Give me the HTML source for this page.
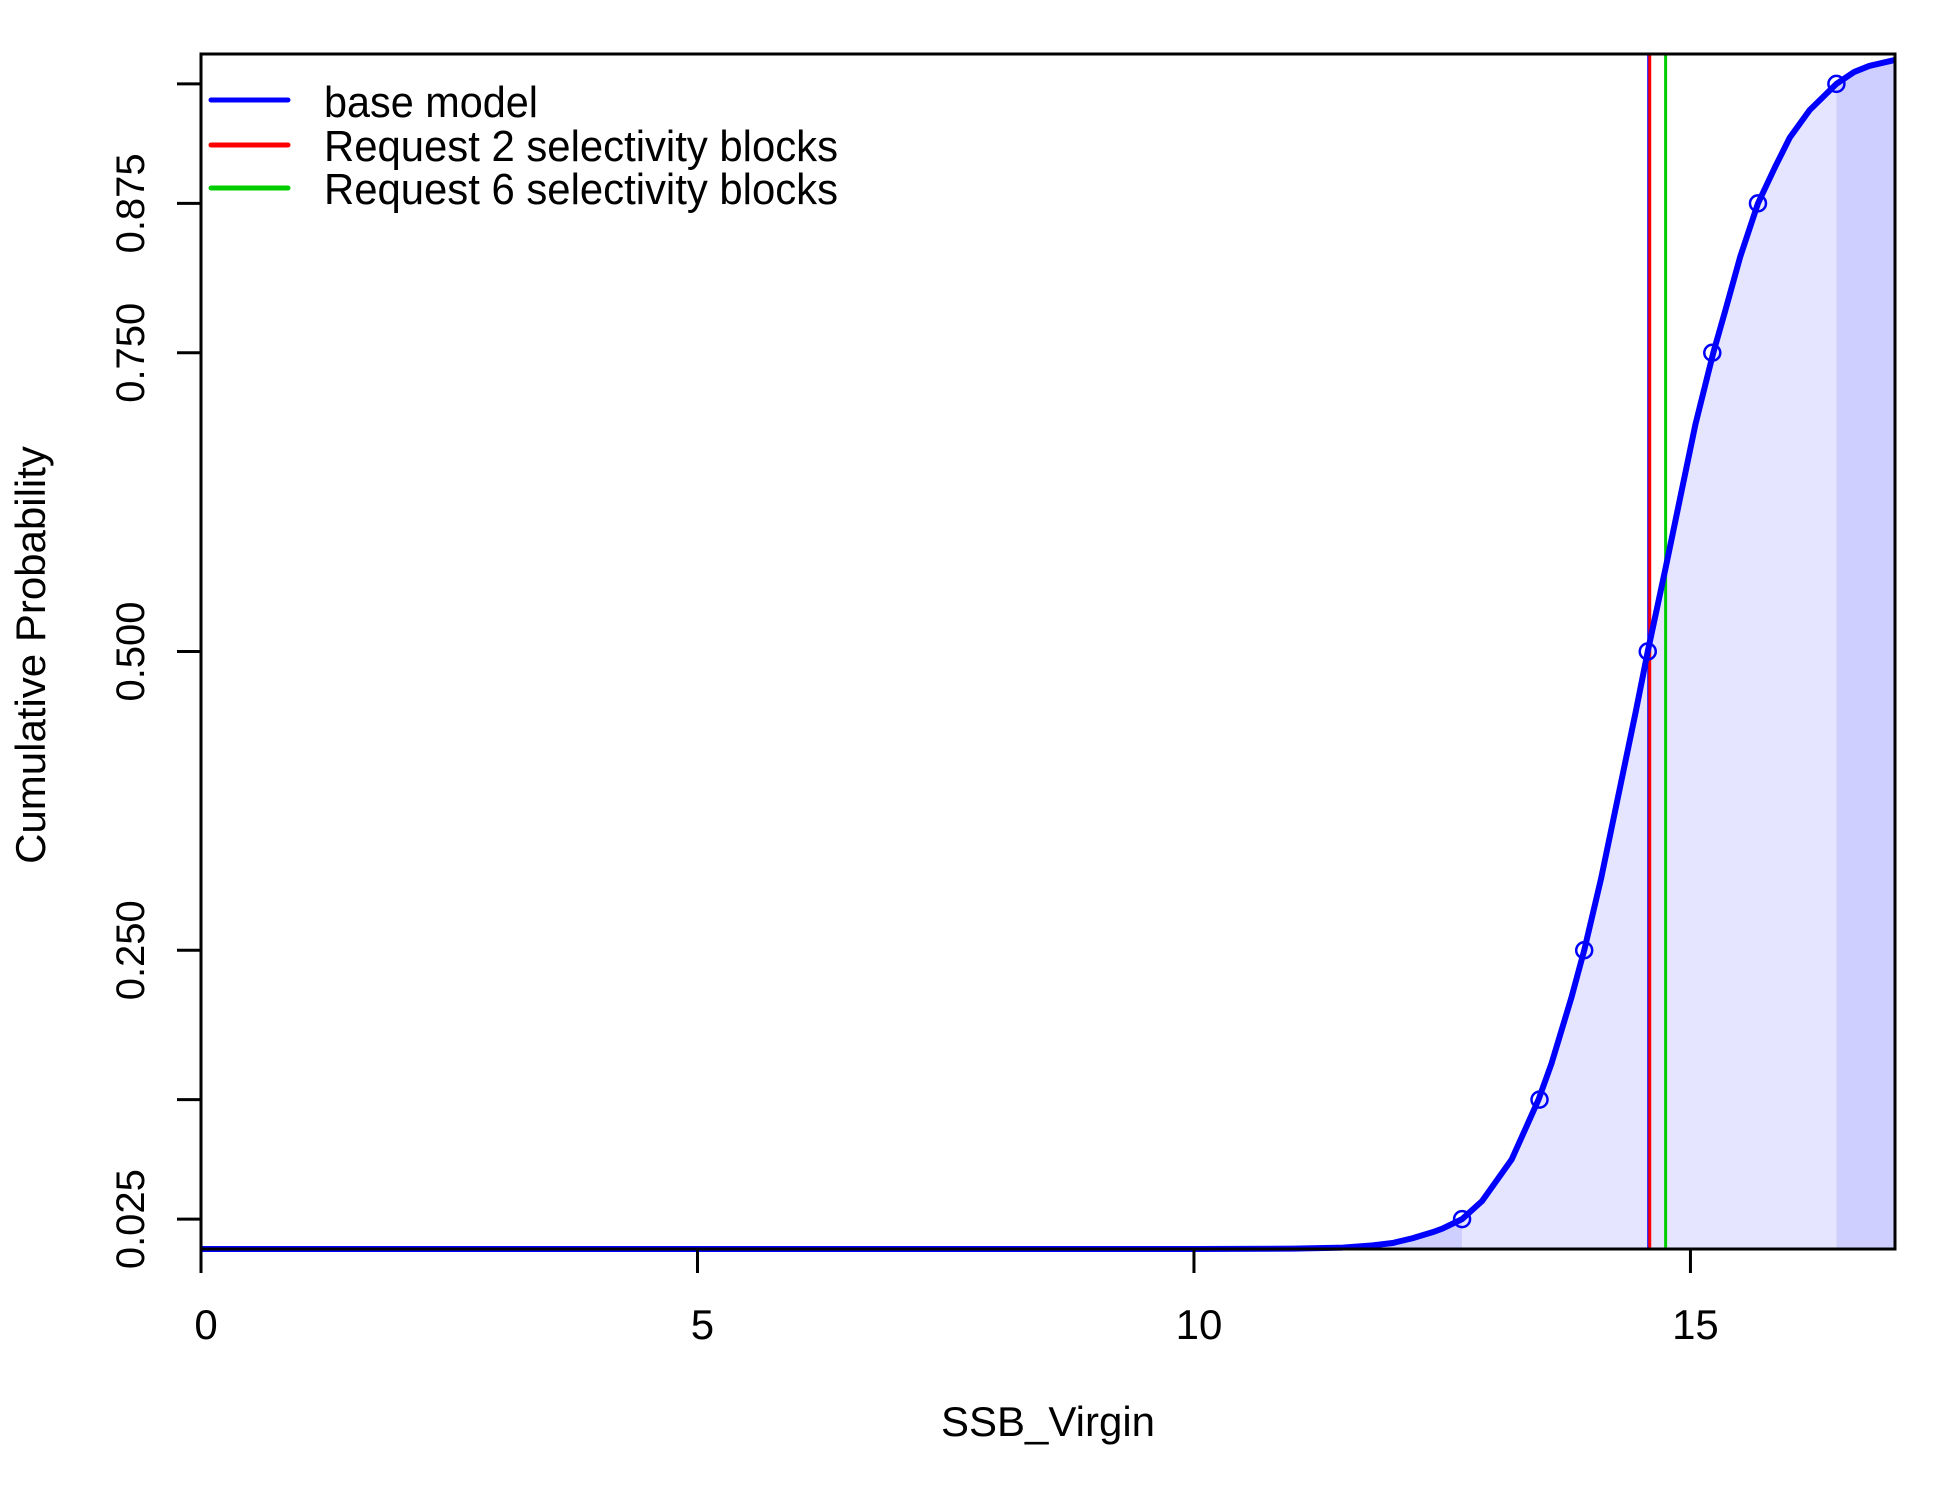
<!DOCTYPE html>
<html><head><meta charset="utf-8"><title>Cumulative Probability SSB_Virgin</title>
<style>html,body{margin:0;padding:0;background:#fff}svg{display:block}text{font-family:"Liberation Sans",Arial,sans-serif;fill:#000}</style>
</head><body>
<svg id="chart" width="1950" height="1500" viewBox="0 0 1950 1500" xmlns="http://www.w3.org/2000/svg">
<g id="fills"></g>
<g id="vlines"></g>
<g id="curve"></g>
<g id="points"></g>
<rect x="201" y="54" width="1694" height="1195" fill="none" stroke="#000" stroke-width="3"/>
<g id="xaxis"></g>
<g id="yaxis"></g>
<text x="1048" y="1436" font-size="42" text-anchor="middle">SSB_Virgin</text>
<text transform="translate(45,655) rotate(-90)" font-size="42" text-anchor="middle">Cumulative Probability</text>
<g>
  <line x1="211" y1="100" x2="288" y2="100" stroke="#0000ff" stroke-width="5" stroke-linecap="round"/>
  <line x1="211" y1="145" x2="288" y2="145" stroke="#ff0000" stroke-width="5" stroke-linecap="round"/>
  <line x1="211" y1="188" x2="288" y2="188" stroke="#00cd00" stroke-width="5" stroke-linecap="round"/>
  <text x="324" y="117" font-size="44" textLength="214" lengthAdjust="spacingAndGlyphs">base model</text>
  <text x="324" y="161" font-size="44" textLength="514" lengthAdjust="spacingAndGlyphs">Request 2 selectivity blocks</text>
  <text x="324" y="204" font-size="44" textLength="514" lengthAdjust="spacingAndGlyphs">Request 6 selectivity blocks</text>
</g>
</svg>
<script>
const curveX = [0, 5, 10, 11, 11.5, 11.8, 12, 12.2, 12.4, 12.5, 12.7, 12.9, 13.2, 13.47, 13.6, 13.8, 13.93, 14.1, 14.3, 14.45, 14.57, 14.75, 14.9, 15.05, 15.23, 15.35, 15.5, 15.68, 15.85, 16.0, 16.2, 16.47, 16.65, 16.8, 17.06];
const curveP = [0, 0, 0, 0.0003, 0.0012, 0.003, 0.005, 0.009, 0.014, 0.017, 0.025, 0.04, 0.075, 0.125, 0.155, 0.21, 0.25, 0.31, 0.39, 0.45, 0.5, 0.57, 0.63, 0.69, 0.75, 0.785, 0.83, 0.875, 0.905, 0.93, 0.953, 0.975, 0.985, 0.99, 0.995];
const quantX = [12.70, 13.48, 13.93, 14.57, 15.22, 15.68, 16.47];
const quantP = [0.025, 0.125, 0.25, 0.5, 0.75, 0.875, 0.975];
const baseEst = 14.58;
const req2Est = 14.59;
const req6Est = 14.75;
const xTicks = [0, 5, 10, 15];
const yTicks = [0.025, 0.125, 0.25, 0.5, 0.75, 0.875, 0.975];
const yTickLabels = ["0.025", "", "0.250", "0.500", "0.750", "0.875", ""];

const X0 = 201, X1 = 1895, Y0 = 1249, Y1 = 54;
const xMin = 0, xMax = 17.06;
const sx = v => X0 + (v - xMin) / (xMax - xMin) * (X1 - X0);
const sy = p => Y0 - p * (Y0 - Y1);
const NS = 'http://www.w3.org/2000/svg';
function mk(tag, attrs, parent) {
  const e = document.createElementNS(NS, tag);
  for (const k in attrs) e.setAttribute(k, attrs[k]);
  parent.appendChild(e);
  return e;
}
function interp(x) {
  for (let i = 1; i < curveX.length; i++) {
    if (x <= curveX[i]) {
      const t = (x - curveX[i-1]) / (curveX[i] - curveX[i-1]);
      return curveP[i-1] + t * (curveP[i] - curveP[i-1]);
    }
  }
  return curveP[curveP.length-1];
}
function area(a, b) {
  let pts = [[sx(a), sy(0)]];
  pts.push([sx(a), sy(interp(a))]);
  for (let i = 0; i < curveX.length; i++) if (curveX[i] > a && curveX[i] < b) pts.push([sx(curveX[i]), sy(curveP[i])]);
  pts.push([sx(b), sy(interp(b))]);
  pts.push([sx(b), sy(0)]);
  return pts.map(p => p.join(',')).join(' ');
}
const fills = document.getElementById('fills');
const lo = quantX[0], hi = quantX[quantX.length-1];
let f1 = mk('polygon', {points: area(xMin, lo), fill: '#cfcfff'}, fills);


let f2 = mk('polygon', {points: area(lo, hi), fill: '#e5e5ff'}, fills);


let f3 = mk('polygon', {points: area(hi, xMax), fill: '#cfcfff'}, fills);



const vl = document.getElementById('vlines');
let lb = mk('line', {x1: sx(baseEst), x2: sx(baseEst), y1: Y1, y2: Y0, stroke: '#0000ff', 'stroke-width': 3}, vl);


let lr = mk('line', {x1: sx(req2Est), x2: sx(req2Est), y1: Y1, y2: Y0, stroke: '#ff0000', 'stroke-width': 3}, vl);


let lg = mk('line', {x1: sx(req6Est), x2: sx(req6Est), y1: Y1, y2: Y0, stroke: '#00cd00', 'stroke-width': 3}, vl);



const cg = document.getElementById('curve');
let cp = mk('polyline', {points: curveX.map((x, i) => sx(x) + ',' + sy(curveP[i])).join(' '), fill: 'none', stroke: '#0000ff', 'stroke-width': 6, 'stroke-linejoin': 'round'}, cg);



const pg = document.getElementById('points');
quantX.forEach((x, i) => {
  const c = mk('circle', {cx: sx(x), cy: sy(quantP[i]), r: 8, fill: 'none', stroke: '#0000ff', 'stroke-width': 2.5}, pg);
  
  
});

const xa = document.getElementById('xaxis');
xTicks.forEach(v => {
  const t = mk('line', {x1: sx(v), x2: sx(v), y1: Y0, y2: Y0 + 24, stroke: '#000', 'stroke-width': 3}, xa);
  
  
  const l = mk('text', {x: sx(v) + 5, y: 1339, 'font-size': 42, 'text-anchor': 'middle'}, xa);
  
  
  l.textContent = String(v);
});
const ya = document.getElementById('yaxis');
yTicks.forEach((v, i) => {
  const t = mk('line', {x1: X0 - 24, x2: X0, y1: sy(v), y2: sy(v), stroke: '#000', 'stroke-width': 3}, ya);
  
  
  if (yTickLabels[i]) {
    const l = mk('text', {transform: 'translate(144,' + sy(v) + ') rotate(-90)', 'font-size': 40, 'text-anchor': 'middle'}, ya);
    
    
    l.textContent = yTickLabels[i];
  }
});
</script>
</body></html>
